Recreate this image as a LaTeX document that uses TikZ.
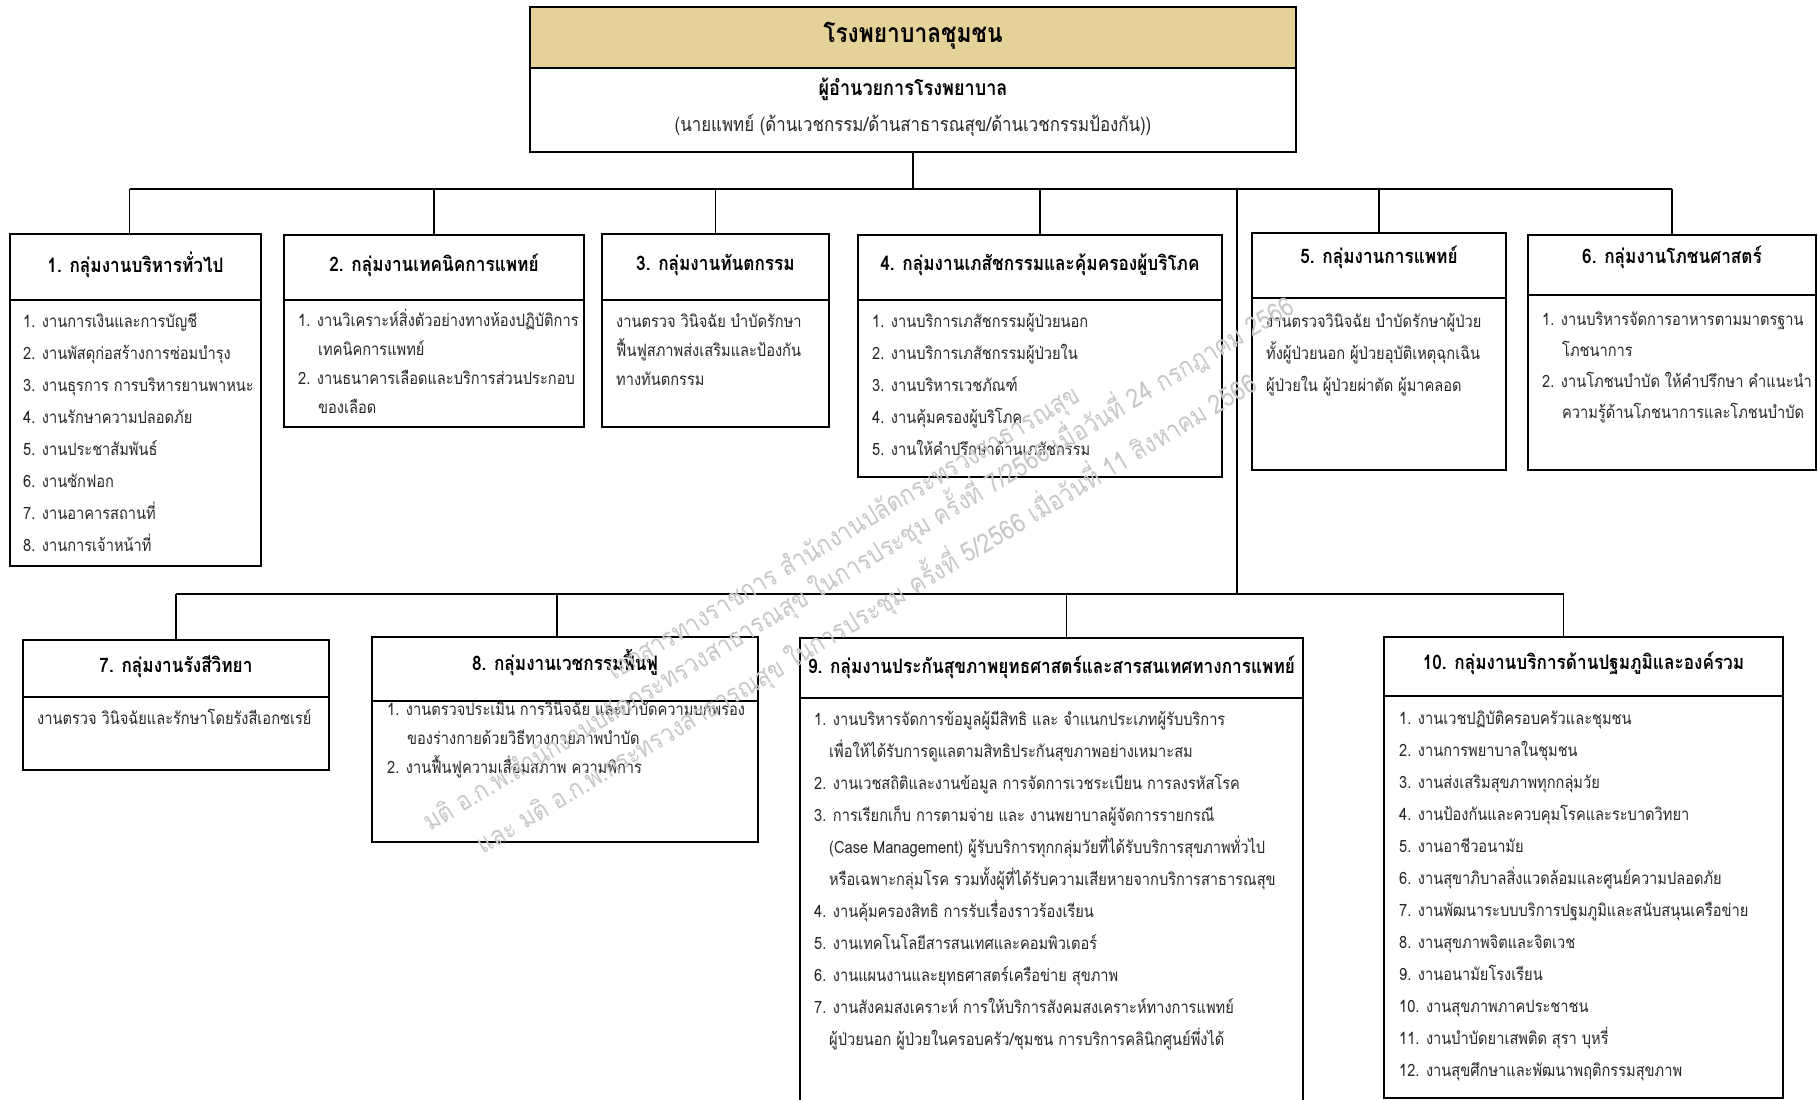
\documentclass[tikz,border=0pt]{standalone}
\usepackage{fontspec}
\newfontfamily\thai[Script=Thai,FakeStretch=0.86]{Loma}
\definecolor{bandc}{RGB}{228,210,153}
\definecolor{itc}{RGB}{40,40,40}
\newcommand\itemlines[5]{%
  \foreach \txt [count=\i from 0] in {#5} {%
    \node[itm] (#1-\i) at (#2,{#3+5+#4*\i}) {\txt};}}
\begin{document}
\begin{tikzpicture}[x=1pt,y=-1pt,
  grp/.style={draw=black, line width=1.5pt, rectangle, inner sep=0pt, outer sep=0pt, anchor=north west},
  div/.style={line width=1.5pt},
  ttl/.style={font=\thai\bfseries\fontsize{20}{22}\selectfont, inner sep=0pt},
  itm/.style={font=\thai\fontsize{17}{19}\selectfont, inner sep=0pt, anchor=base west, text=itc},
  conn/.style={line width=1.3pt},
  wm/.style={font=\thai\fontsize{26.5}{28}\selectfont, text=black!22, rotate=31, inner sep=0pt}]
\useasboundingbox (0,0) rectangle (1818,1100);
\clip (0,0) rectangle (1818,1100);
% top box
\fill[bandc] (530,7) rectangle (1296,68);
\node[grp, minimum width=766pt, minimum height=145pt] (top) at (530,7) {};
\draw[div] ([yshift=-61pt]top.north west) -- ([yshift=-61pt]top.north east);
\node[font=\thai\bfseries\fontsize{26.5}{28}\selectfont, inner sep=0pt] (tname) at (913,36) {โรงพยาบาลชุมชน};
\node[font=\thai\bfseries\fontsize{21}{23}\selectfont, inner sep=0pt] (tdir) at (913,89) {ผู้อำนวยการโรงพยาบาล};
\node[font=\thai\fontsize{19.6}{22}\selectfont, inner sep=0pt, text=itc] (tdoc) at (913,125) {(นายแพทย์ (ด้านเวชกรรม/ด้านสาธารณสุข/ด้านเวชกรรมป้องกัน))};
% level-1 boxes
\node[grp, minimum width=251pt, minimum height=332pt] (g1) at (10,234) {};
\node[grp, minimum width=300pt, minimum height=192pt] (g2) at (284,235) {};
\node[grp, minimum width=227pt, minimum height=193pt] (g3) at (602,234) {};
\node[grp, minimum width=364pt, minimum height=242pt] (g4) at (858,235) {};
\node[grp, minimum width=254pt, minimum height=237pt] (g5) at (1252,233) {};
\node[grp, minimum width=288pt, minimum height=235pt] (g6) at (1528,235) {};
% level-2 boxes
\node[grp, minimum width=306pt, minimum height=130pt] (g7) at (23,640) {};
\node[grp, minimum width=386pt, minimum height=205pt] (g8) at (372,637) {};
\node[grp, minimum width=503pt, minimum height=470pt] (g9) at (800,638) {};
\node[grp, minimum width=399pt, minimum height=461pt] (g10) at (1384,637) {};
% dividers
\foreach \g/\d in {g1/66,g2/65,g3/66,g4/65,g5/65,g6/60,g7/57,g8/64,g9/60,g10/59}
  \draw[div] ([yshift=-\d pt]\g.north west) -- ([yshift=-\d pt]\g.north east);
% titles
\node[ttl] (t1) at (135.5,265) {1. กลุ่มงานบริหารทั่วไป};
\node[ttl] (t2) at (434,265) {2. กลุ่มงานเทคนิคการแพทย์};
\node[ttl] (t3) at (715.5,265) {3. กลุ่มงานทันตกรรม};
\node[ttl] (t4) at (1040,265) {4. กลุ่มงานเภสัชกรรมและคุ้มครองผู้บริโภค};
\node[ttl] (t5) at (1379,257) {5. กลุ่มงานการแพทย์};
\node[ttl] (t6) at (1672,257) {6. กลุ่มงานโภชนศาสตร์};
\node[ttl] (t7) at (176,667) {7. กลุ่มงานรังสีวิทยา};
\node[ttl] (t8) at (565,663) {8. กลุ่มงานเวชกรรมฟื้นฟู};
\node[ttl] (t9) at (1051.5,667) {9. กลุ่มงานประกันสุขภาพยุทธศาสตร์และสารสนเทศทางการแพทย์};
\node[ttl] (t10) at (1583.5,663) {10. กลุ่มงานบริการด้านปฐมภูมิและองค์รวม};
% items
\itemlines{b1}{23}{322}{32.1}{1. งานการเงินและการบัญชี,2. งานพัสดุก่อสร้างการซ่อมบำรุง,3. งานธุรการ การบริหารยานพาหนะ,4. งานรักษาความปลอดภัย,5. งานประชาสัมพันธ์,6. งานซักฟอก,7. งานอาคารสถานที่,8. งานการเจ้าหน้าที่}
\itemlines{b2}{298}{321}{29}{1. งานวิเคราะห์สิ่งตัวอย่างทางห้องปฏิบัติการ,\hspace*{20pt}เทคนิคการแพทย์,2. งานธนาคารเลือดและบริการส่วนประกอบ,\hspace*{20pt}ของเลือด}
\itemlines{b3}{616}{322}{29}{งานตรวจ วินิจฉัย บำบัดรักษา,ฟื้นฟูสภาพส่งเสริมและป้องกัน,ทางทันตกรรม}
\itemlines{b4}{872}{322}{32}{1. งานบริการเภสัชกรรมผู้ป่วยนอก,2. งานบริการเภสัชกรรมผู้ป่วยใน,3. งานบริหารเวชภัณฑ์,4. งานคุ้มครองผู้บริโภค,5. งานให้คำปรึกษาด้านเภสัชกรรม}
\itemlines{b5}{1266}{322}{32}{งานตรวจวินิจฉัย บำบัดรักษาผู้ป่วย,ทั้งผู้ป่วยนอก ผู้ป่วยอุบัติเหตุฉุกเฉิน,ผู้ป่วยใน ผู้ป่วยผ่าตัด ผู้มาคลอด}
\itemlines{b6}{1542}{320}{31}{1. งานบริหารจัดการอาหารตามมาตรฐาน,\hspace*{20pt}โภชนาการ,2. งานโภชนบำบัด ให้คำปรึกษา คำแนะนำ,\hspace*{20pt}ความรู้ด้านโภชนาการและโภชนบำบัด}
\itemlines{b7}{37}{719}{32}{งานตรวจ วินิจฉัยและรักษาโดยรังสีเอกซเรย์}
\itemlines{b8}{387}{710}{29}{1. งานตรวจประเมิน การวินิจฉัย และบำบัดความบกพร่อง,\hspace*{20pt}ของร่างกายด้วยวิธีทางกายภาพบำบัด,2. งานฟื้นฟูความเสื่อมสภาพ ความพิการ}
\itemlines{b9}{814}{720}{32}{1. งานบริหารจัดการข้อมูลผู้มีสิทธิ และ จำแนกประเภทผู้รับบริการ,\hspace*{15pt}เพื่อให้ได้รับการดูแลตามสิทธิประกันสุขภาพอย่างเหมาะสม,2. งานเวชสถิติและงานข้อมูล การจัดการเวชระเบียน การลงรหัสโรค,3. การเรียกเก็บ การตามจ่าย และ งานพยาบาลผู้จัดการรายกรณี,\hspace*{15pt}(Case Management) ผู้รับบริการทุกกลุ่มวัยที่ได้รับบริการสุขภาพทั่วไป,\hspace*{15pt}หรือเฉพาะกลุ่มโรค รวมทั้งผู้ที่ได้รับความเสียหายจากบริการสาธารณสุข,4. งานคุ้มครองสิทธิ การรับเรื่องราวร้องเรียน,5. งานเทคโนโลยีสารสนเทศและคอมพิวเตอร์,6. งานแผนงานและยุทธศาสตร์เครือข่าย สุขภาพ,7. งานสังคมสงเคราะห์ การให้บริการสังคมสงเคราะห์ทางการแพทย์,\hspace*{15pt}ผู้ป่วยนอก ผู้ป่วยในครอบครัว/ชุมชน การบริการคลินิกศูนย์พึ่งได้}
\itemlines{b10}{1399}{719}{32}{1. งานเวชปฏิบัติครอบครัวและชุมชน,2. งานการพยาบาลในชุมชน,3. งานส่งเสริมสุขภาพทุกกลุ่มวัย,4. งานป้องกันและควบคุมโรคและระบาดวิทยา,5. งานอาชีวอนามัย,6. งานสุขาภิบาลสิ่งแวดล้อมและศูนย์ความปลอดภัย,7. งานพัฒนาระบบบริการปฐมภูมิและสนับสนุนเครือข่าย,8. งานสุขภาพจิตและจิตเวช,9. งานอนามัยโรงเรียน,10. งานสุขภาพภาคประชาชน,11. งานบำบัดยาเสพติด สุรา บุหรี่,12. งานสุขศึกษาและพัฒนาพฤติกรรมสุขภาพ}
% connectors
\coordinate (j0) at (916,189);
\coordinate (j1) at (1237,594);
\draw[conn] (top.south) -- (top.south |- j0);
\draw[conn] ([xshift=-6pt]g1.north |- j0) -- (g6.north |- j0);
\draw[conn] ([xshift=-6pt]g1.north |- j0) -- ([xshift=-6pt]g1.north);
\foreach \g in {g2,g3,g4,g5,g6} \draw[conn] (\g.north |- j0) -- (\g.north);
\draw[conn] (j1 |- j0) -- (j1);
\draw[conn] (g7.north |- j1) -- ([xshift=-20pt]g10.north |- j1);
\draw[conn] (g7.north |- j1) -- (g7.north);
\draw[conn] ([xshift=-8pt]g8.north |- j1) -- ([xshift=-8pt]g8.north);
\draw[conn] ([xshift=15pt]g9.north |- j1) -- ([xshift=15pt]g9.north);
\draw[conn] ([xshift=-20pt]g10.north |- j1) -- ([xshift=-20pt]g10.north);
% watermark
\node[wm, anchor=east] (w1) at (1078,394) {เอกสารทางราชการ สำนักงานปลัดกระทรวงสาธารณสุข};
\node[wm, anchor=west] (w2) at (425,823) {มติ อ.ก.พ.สำนักงานปลัดกระทรวงสาธารณสุข ในการประชุม ครั้งที่ 7/2566 เมื่อวันที่ 24 กรกฎาคม 2566};
\node[wm, anchor=west] (w3) at (478,846) {และ มติ อ.ก.พ.กระทรวงสาธารณสุข ในการประชุม ครั้งที่ 5/2566 เมื่อวันที่ 11 สิงหาคม 2566};
\end{tikzpicture}
\end{document}
